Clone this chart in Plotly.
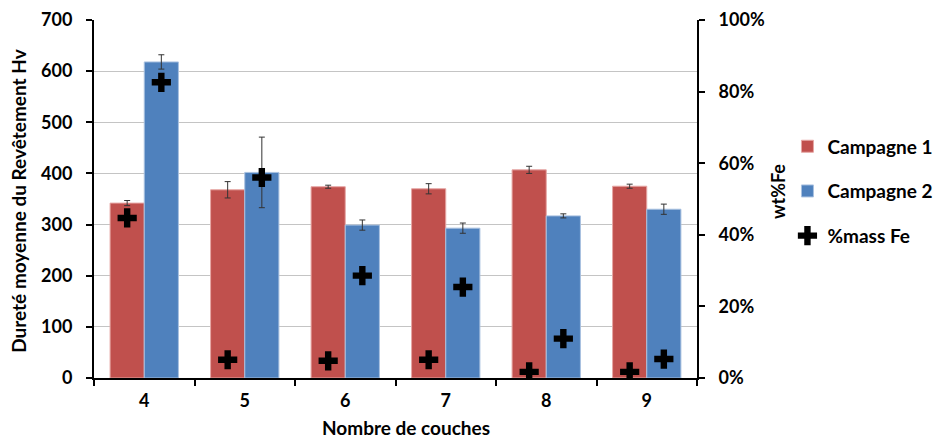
import plotly.graph_objects as go

categories = ["4", "5", "6", "7", "8", "9"]
campagne1 = [342, 368, 374, 370, 407, 375]
campagne1_err = [5, 16, 3, 10, 7, 4]
campagne2 = [618, 402, 299, 293, 317, 330]
campagne2_err = [14, 69, 10, 10, 4, 10]
fe_c1 = [0.447, 0.051, 0.048, 0.051, 0.017, 0.017]
fe_c2 = [0.826, 0.560, 0.286, 0.254, 0.110, 0.053]

RED = "#C0504D"
BLUE = "#4F81BD"
FONT = "Lato"
TICK = dict(family=FONT, size=18, color="black", weight="bold")

err_style = dict(type="data", thickness=1, width=3, color="#333333")

fig = go.Figure()
fig.add_trace(go.Bar(
    x=categories, y=campagne1, name="Campagne 1", offsetgroup="c1",
    marker=dict(color=RED, line=dict(color="#E6A6A4", width=1)),
    error_y=dict(array=campagne1_err, **err_style),
    legendgroup="g1",
))
fig.add_trace(go.Bar(
    x=categories, y=campagne2, name="Campagne 2", offsetgroup="c2",
    marker=dict(color=BLUE, line=dict(color="#A9C1E0", width=1)),
    error_y=dict(array=campagne2_err, **err_style),
    legendgroup="g2",
))
fig.add_trace(go.Scatter(
    x=categories, y=fe_c1, name="%mass Fe", mode="markers", yaxis="y2",
    offsetgroup="c1",
    marker=dict(symbol="cross", size=16, color="black"),
    legendgroup="g3",
))
fig.add_trace(go.Scatter(
    x=categories, y=fe_c2, name="%mass Fe", mode="markers", yaxis="y2",
    offsetgroup="c2", showlegend=False,
    marker=dict(symbol="cross", size=16, color="black"),
    legendgroup="g3",
))

fig.update_layout(
    width=946, height=441,
    margin=dict(l=86, r=257, t=12, b=71, autoexpand=False),
    paper_bgcolor="white", plot_bgcolor="white",
    barmode="group", bargap=0.32, bargroupgap=0,
    scattermode="group", scattergap=0.32,
    font=dict(family=FONT, size=18, color="black"),
    showlegend=True,
    legend=dict(
        x=1.15, y=0.70, xanchor="left", yanchor="top",
        font=dict(family=FONT, size=19, color="black", weight="bold"),
        traceorder="grouped", tracegroupgap=17,
        bgcolor="rgba(0,0,0,0)",
    ),
    xaxis=dict(
        type="category",
        showline=True, linecolor="black", linewidth=2,
        ticks="outside", tickson="boundaries", ticklen=6, tickcolor="black", tickwidth=2,
        tickfont=TICK, ticklabelstandoff=5,
        showgrid=False,
    ),
    yaxis=dict(
        range=[0, 700], dtick=100,
        showline=True, linecolor="black", linewidth=2,
        ticks="outside", ticklen=6, tickcolor="black", tickwidth=2,
        showgrid=True, gridcolor="#C4C4C4", gridwidth=1,
        zeroline=False,
        tickfont=TICK, ticklabelstandoff=10,
    ),
    yaxis2=dict(
        overlaying="y", side="right", range=[0, 1], dtick=0.2, tickformat=".0%",
        showline=True, linecolor="black", linewidth=2,
        ticks="outside", ticklen=6, tickcolor="black", tickwidth=2,
        showgrid=False, zeroline=False,
        tickfont=TICK, ticklabelstandoff=10,
    ),
    annotations=[
        dict(text="<b>Nombre de couches</b>", xref="paper", yref="paper",
             x=0.517, y=-0.1383, xanchor="center", yanchor="middle", showarrow=False,
             borderpad=0, font=dict(family=FONT, size=19, color="black")),
        dict(text="<b>Dureté moyenne du Revêtement Hv</b>", xref="paper", yref="paper",
             x=-0.125, y=0.494, xanchor="center", yanchor="middle", showarrow=False,
             textangle=-90, font=dict(family=FONT, size=19, color="black")),
        dict(text="<b>wt%Fe</b>", xref="paper", yref="paper",
             x=1.134, y=0.522, xanchor="center", yanchor="middle", showarrow=False,
             textangle=-90, font=dict(family=FONT, size=18, color="black")),
    ],
)

fig.write_html("out.html")
